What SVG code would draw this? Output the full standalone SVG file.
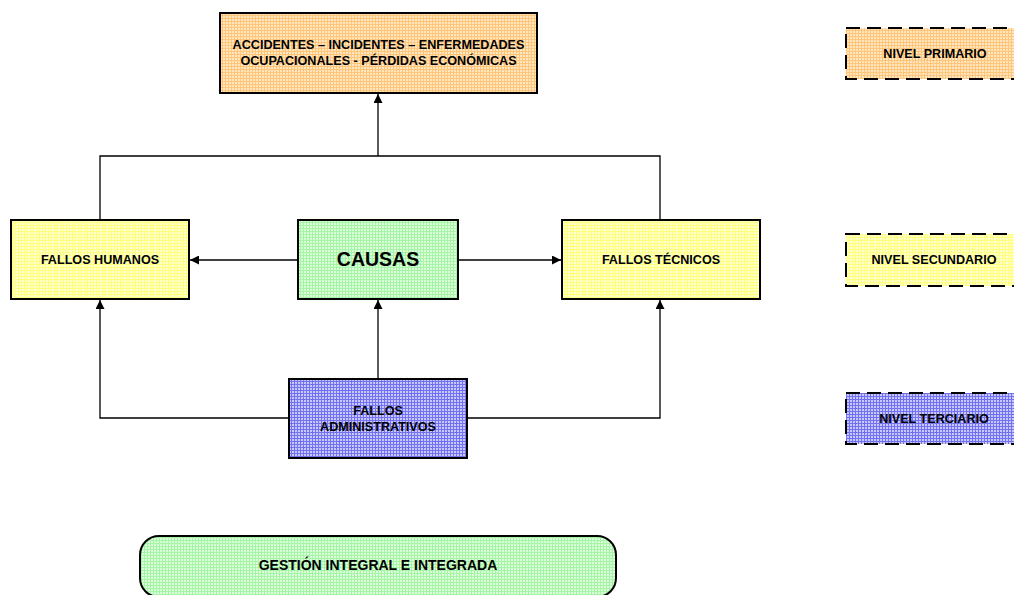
<svg xmlns="http://www.w3.org/2000/svg" width="1014" height="595" viewBox="0 0 1014 595">
<style>
  .box{stroke:#000;stroke-width:2}
  .dash{stroke:#000;stroke-width:2;stroke-dasharray:14 7}
  .t{font-family:"Liberation Sans",Arial,sans-serif;font-weight:bold;font-size:12.6px;text-anchor:middle;fill:#000}
  .big{font-size:19.5px}
  .g{font-size:14px}
  .c{fill:none;stroke:#000;stroke-width:1.3}
</style>
<defs>
  <pattern id="pO" width="3" height="3" patternUnits="userSpaceOnUse">
    <rect width="3" height="3" fill="#FFE6BE"/><path d="M0 0.5H3M0.5 0V3" stroke="#FFC57A" stroke-width="1"/>
  </pattern>
  <pattern id="pY" width="3" height="3" patternUnits="userSpaceOnUse">
    <rect width="3" height="3" fill="#FFFFD0"/><path d="M0 0.5H3M0.5 0V3" stroke="#FFFF80" stroke-width="1"/>
  </pattern>
  <pattern id="pG" width="3" height="3" patternUnits="userSpaceOnUse">
    <rect width="3" height="3" fill="#DAFFDA"/><path d="M0 0.5H3M0.5 0V3" stroke="#A6F4A6" stroke-width="1"/>
  </pattern>
  <pattern id="pB" width="3" height="3" patternUnits="userSpaceOnUse">
    <rect width="3" height="3" fill="#C8C8FF"/><path d="M0 0.5H3M0.5 0V3" stroke="#7272F0" stroke-width="1"/>
  </pattern>
  <marker id="arr" viewBox="0 0 10 10" refX="10" refY="5" markerWidth="9" markerHeight="9" markerUnits="userSpaceOnUse" orient="auto">
    <path d="M0 0L10 5L0 10Z" fill="#000"/>
  </marker>
</defs>
<rect width="1014" height="595" fill="#fff"/>

<g id="connectors">
  <path class="c" d="M100 220V156H660V220"/>
  <path class="c" d="M378 156V94" marker-end="url(#arr)"/>
  <path class="c" d="M298 260H190" marker-end="url(#arr)"/>
  <path class="c" d="M458 260H561" marker-end="url(#arr)"/>
  <path class="c" d="M378 379V300" marker-end="url(#arr)"/>
  <path class="c" d="M289 418H100V300" marker-end="url(#arr)"/>
  <path class="c" d="M467 418H660V300" marker-end="url(#arr)"/>
</g>

<g id="resultados">
  <rect class="box" x="220" y="13" width="317" height="80" fill="url(#pO)"/>
  <text class="t" x="378.5" y="49">ACCIDENTES – INCIDENTES – ENFERMEDADES</text>
  <text class="t" x="378.5" y="65">OCUPACIONALES - PÉRDIDAS ECONÓMICAS</text>
</g>

<g id="fallos-humanos">
  <rect class="box" x="11" y="220" width="178" height="79" fill="url(#pY)"/>
  <text class="t" x="100" y="264">FALLOS HUMANOS</text>
</g>

<g id="causas">
  <rect class="box" x="298" y="220" width="160" height="79" fill="url(#pG)"/>
  <text class="t big" x="378" y="266">CAUSAS</text>
</g>

<g id="fallos-tecnicos">
  <rect class="box" x="562" y="220" width="198" height="79" fill="url(#pY)"/>
  <text class="t" x="661" y="264">FALLOS TÉCNICOS</text>
</g>

<g id="fallos-administrativos">
  <rect class="box" x="289" y="379" width="178" height="79" fill="url(#pB)"/>
  <text class="t" x="378" y="415">FALLOS</text>
  <text class="t" x="378" y="431">ADMINISTRATIVOS</text>
</g>

<g id="gestion">
  <rect class="box" x="140" y="536" width="476" height="61" rx="19" ry="19" fill="url(#pG)"/>
  <text class="t g" x="378" y="570">GESTIÓN INTEGRAL E INTEGRADA</text>
</g>

<g id="nivel-primario">
  <rect class="dash" x="846" y="28" width="190" height="51" fill="url(#pO)"/>
  <text class="t" x="935" y="58">NIVEL PRIMARIO</text>
</g>

<g id="nivel-secundario">
  <rect class="dash" x="846" y="234" width="190" height="52" fill="url(#pY)"/>
  <text class="t" x="934" y="264">NIVEL SECUNDARIO</text>
</g>

<g id="nivel-terciario">
  <rect class="dash" x="846" y="393" width="190" height="51" fill="url(#pB)"/>
  <text class="t" x="934" y="423">NIVEL TERCIARIO</text>
</g>
</svg>
